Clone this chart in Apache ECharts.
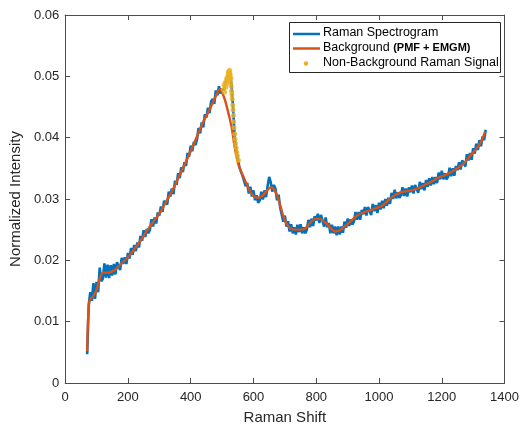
<!DOCTYPE html>
<html><head><meta charset="utf-8">
<script src="https://cdn.jsdelivr.net/npm/echarts@6/dist/echarts.min.js"></script>
<style>html,body{margin:0;padding:0;background:#fff}#c{width:522px;height:430px}</style>
</head><body><div id="c"></div>
<script>
// Raman spectrogram (blue), sampled every 5 units from 70 to 1340
const specStart = 70, specStep = 5;
const specY = [
.0047,.0128,.0148,.0134,.0163,.0137,.0165,.0148,.0188,.0166,
.0170,.0195,.0172,.0193,.0171,.0192,.0175,.0194,.0177,.0197,
.0196,.0184,.0204,.0194,.0205,.0194,.0212,.0203,.0220,.0209,
.0225,.0215,.0229,.0221,.0240,.0232,.0249,.0238,.0251,.0244,
.0250,.0267,.0255,.0270,.0260,.0278,.0273,.0288,.0279,.0297,
.0300,.0291,.0312,.0304,.0317,.0308,.0330,.0323,.0342,.0334,
.0352,.0344,.0360,.0354,.0375,.0369,.0387,.0378,.0393,.0388,
.0397,.0416,.0407,.0425,.0417,.0438,.0433,.0449,.0440,.0459,
.0463,.0455,.0477,.0469,.0484,.0472,.0480,.0476,.0487,.0496,
.0503,.0508,.0486,.0448,.0400,.0380,.0366,.0352,.0350,.0338,
.0341,.0321,.0326,.0309,.0320,.0304,.0314,.0298,.0306,.0294,
.0298,.0312,.0299,.0314,.0303,.0321,.0336,.0327,.0312,.0323,
.0317,.0298,.0307,.0286,.0286,.0263,.0273,.0255,.0264,.0247,
.0259,.0244,.0254,.0242,.0258,.0246,.0259,.0244,.0254,.0244,
.0250,.0266,.0254,.0268,.0256,.0272,.0265,.0276,.0261,.0274,
.0271,.0255,.0270,.0254,.0261,.0244,.0258,.0244,.0255,.0241,
.0255,.0242,.0255,.0245,.0263,.0253,.0268,.0256,.0267,.0258,
.0263,.0279,.0266,.0279,.0266,.0282,.0275,.0287,.0273,.0287,
.0287,.0274,.0292,.0280,.0290,.0277,.0294,.0283,.0297,.0285,
.0300,.0289,.0302,.0292,.0310,.0300,.0315,.0301,.0311,.0302,
.0306,.0319,.0305,.0317,.0304,.0319,.0311,.0322,.0309,.0323,
.0323,.0310,.0328,.0316,.0326,.0314,.0331,.0320,.0334,.0322,
.0336,.0324,.0336,.0326,.0343,.0332,.0346,.0332,.0342,.0332,
.0336,.0351,.0337,.0350,.0338,.0354,.0347,.0360,.0348,.0363,
.0364,.0353,.0373,.0363,.0375,.0364,.0383,.0374,.0390,.0380,
.0396,.0386,.0402,.0396,.0413
];
// Background (PMF + EMGM) curve
const bgX = [70,73,77,82,90,100,110,120,130,140,150,160,170,180,200,220,240,260,280,300,320,340,360,380,400,420,440,460,480,490,495,500,510,520,530,540,550,560,570,580,590,600,615,630,645,655,665,675,685,695,705,715,730,750,765,780,800,815,830,845,860,875,890,910,930,950,970,990,1010,1030,1050,1070,1090,1110,1130,1150,1170,1190,1210,1230,1250,1270,1290,1310,1325,1338];
const bgY = [.0052,.0105,.0133,.0138,.0142,.0152,.0170,.0180,.0180,.0180,.0182,.0185,.0190,.0195,.0205,.0218,.0232,.0248,.0262,.0276,.0294,.0312,.0334,.0356,.0378,.0402,.0426,.0446,.0468,.0478,.0479,.0474,.0460,.0440,.0418,.0385,.0360,.0345,.0334,.0322,.0312,.0305,.0302,.0306,.0315,.0319,.0316,.0306,.0290,.0272,.0260,.0253,.0250,.0250,.0252,.0261,.0268,.0267,.0261,.0253,.0247,.0249,.0255,.0264,.0273,.0278,.0281,.0285,.0289,.0298,.0306,.0311,.0313,.0315,.0319,.0324,.0329,.0335,.0339,.0344,.0350,.0358,.0370,.0382,.0393,.0410];
// Non-background Raman signal points
const sigX = [504,506,508,510,512,514,516,518,519,520,521,522,523,524,525,526,527,528,529,530,531,532,534,535,536,537,538,540,541,543,545,547,549,552];
const sigY = [.0478,.0486,.0474,.0490,.0482,.0496,.0488,.0500,.0506,.0494,.0508,.0500,.0504,.0510,.0496,.0502,.0490,.0497,.0484,.0476,.0470,.0463,.0453,.0445,.0436,.0426,.0416,.0406,.0398,.0390,.0383,.0376,.0370,.0363];
const xTicks = [0,200,400,600,800,1000,1200,1400];
const yTicks = [0,0.01,0.02,0.03,0.04,0.05,0.06];

const specData = specY.map((v,i)=>[specStart+i*specStep, v]);
const bgData = bgX.map((x,i)=>[x,bgY[i]]);
const sigData = sigX.map((x,i)=>[x,sigY[i]]);

const BLUE='#0072BD', ORANGE='#D95319', YELLOW='#EDB120', AX='#4d4d4d', TXT='#262626';
const FONT='Liberation Sans, Arial, Helvetica, sans-serif';

const chart = echarts.init(document.getElementById('c'), null, {renderer:'canvas'});
const axisCommonX = {
  type:'value', min:xTicks[0], max:xTicks[xTicks.length-1], interval:200,
  axisLine:{show:true,onZero:false,lineStyle:{color:AX,width:1}},
  axisTick:{show:true,inside:true,length:5,lineStyle:{color:AX}},
  splitLine:{show:false}
};
const axisCommonY = {
  type:'value', min:yTicks[0], max:yTicks[yTicks.length-1], interval:0.01,
  axisLine:{show:true,onZero:false,lineStyle:{color:AX,width:1}},
  axisTick:{show:true,inside:true,length:5,lineStyle:{color:AX}},
  splitLine:{show:false}
};
chart.setOption({
  animation:false,
  grid:{left:63,right:15,top:15,bottom:41,containLabel:false},
  xAxis:[
    Object.assign({}, axisCommonX, {position:'bottom',
      name:'Raman Shift', nameLocation:'middle', nameGap:27,
      nameTextStyle:{color:TXT,fontSize:15,fontFamily:FONT},
      axisLabel:{color:TXT,fontSize:13,fontFamily:FONT,margin:8,formatter:v=>String(v)}}),
    Object.assign({}, axisCommonX, {position:'top', axisLabel:{show:false}})
  ],
  yAxis:[
    Object.assign({}, axisCommonY, {position:'left',
      name:'Normalized Intensity', nameLocation:'middle', nameGap:37,
      nameTextStyle:{color:TXT,fontSize:15,fontFamily:FONT},
      axisLabel:{color:TXT,fontSize:13,fontFamily:FONT,margin:6,
        formatter:v=> v===0?'0':v.toFixed(2)}}),
    Object.assign({}, axisCommonY, {position:'right', axisLabel:{show:false}})
  ],
  series:[
    {name:'Raman Spectrogram', type:'line', data:specData, showSymbol:false,
     lineStyle:{color:BLUE,width:2.6}, itemStyle:{color:BLUE}, z:2},
    {name:'Background', type:'line', data:bgData, showSymbol:false, smooth:0.3,
     lineStyle:{color:ORANGE,width:2.4}, itemStyle:{color:ORANGE}, z:3},
    {name:'Non-Background Raman Signal', type:'scatter', data:sigData,
     symbol:'circle', symbolSize:5, itemStyle:{color:YELLOW}, z:4}
  ],
  graphic:[
    {type:'rect', shape:{x:289.5,y:22.5,width:211,height:50}, style:{fill:'#fff',stroke:'#262626',lineWidth:1}, z:10},
    {type:'line', shape:{x1:293,y1:34,x2:320,y2:34}, style:{stroke:BLUE,lineWidth:2.5}, z:11},
    {type:'line', shape:{x1:293,y1:48.5,x2:320,y2:48.5}, style:{stroke:ORANGE,lineWidth:2.5}, z:11},
    {type:'circle', shape:{cx:306,cy:63.5,r:2.2}, style:{fill:YELLOW}, z:11},
    {type:'text', left:323, top:26, style:{text:'Raman Spectrogram', fill:'#000', font:'12.5px '+FONT}, z:11},
    {type:'text', left:323, top:41, style:{
      text:'{a|Background }{b|(PMF + EMGM)}',
      rich:{a:{fill:'#000',font:'12.5px '+FONT}, b:{fill:'#000',font:'bold 11px '+FONT}}}, z:11},
    {type:'text', left:323, top:56, style:{text:'Non-Background Raman Signal', fill:'#000', font:'12.5px '+FONT}, z:11}
  ]
});
</script></body></html>
